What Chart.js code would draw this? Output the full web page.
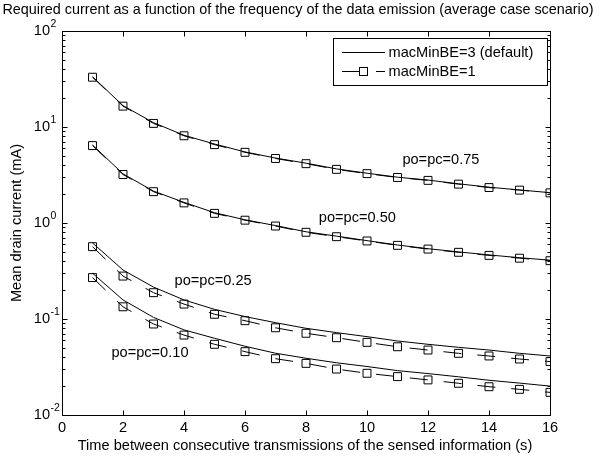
<!DOCTYPE html>
<html>
<head>
<meta charset="utf-8">
<script src="https://cdn.jsdelivr.net/npm/chart.js@4.4.0/dist/chart.umd.min.js"></script>
<style>
  body { margin: 0; background: #fff; }
  #wrap { width: 604px; height: 457px; }
</style>
</head>
<body>
<div id="wrap"><canvas id="currentChart" width="604" height="457"></canvas></div>
<script>
// Data (mean drain current, mA)
const timeS = [1, 2, 3, 4, 5, 6, 7, 8, 9, 10, 11, 12, 13, 14, 15, 16];

const solid075 = [33.4, 16.7, 11.1, 8.2, 6.65, 5.5, 4.75, 4.2, 3.66, 3.3, 3.0, 2.8, 2.56, 2.36, 2.21, 2.07];
const dashed075 = [33.0, 16.5, 10.9, 8.1, 6.55, 5.45, 4.7, 4.15, 3.62, 3.27, 2.98, 2.78, 2.54, 2.34, 2.2, 2.06];
const solid050 = [6.5, 3.25, 2.15, 1.64, 1.28, 1.08, 0.94, 0.81, 0.73, 0.655, 0.59, 0.54, 0.5, 0.465, 0.435, 0.41];
const dashed050 = [6.4, 3.2, 2.12, 1.62, 1.26, 1.07, 0.93, 0.8, 0.72, 0.65, 0.585, 0.535, 0.495, 0.46, 0.43, 0.405];
const solid025 = [0.62, 0.324, 0.215, 0.158, 0.126, 0.106, 0.0916, 0.08, 0.0721, 0.0655, 0.059, 0.0545, 0.0507, 0.0475, 0.0439, 0.0412];
const dashed025 = [0.567, 0.28, 0.188, 0.143, 0.112, 0.096, 0.081, 0.071, 0.0638, 0.0571, 0.0514, 0.0475, 0.0439, 0.0412, 0.0383, 0.036];
const solid010 = [0.3, 0.158, 0.104, 0.077, 0.063, 0.052, 0.044, 0.039, 0.035, 0.032, 0.029, 0.027, 0.025, 0.023, 0.0215, 0.02];
const dashed010 = [0.27, 0.134, 0.0887, 0.068, 0.0545, 0.0457, 0.0386, 0.0345, 0.0301, 0.0272, 0.0251, 0.0232, 0.0214, 0.0197, 0.0185, 0.0172];

const xTicks = [0, 2, 4, 6, 8, 10, 12, 14, 16];
const yTicks = [0.01, 0.1, 1, 10, 100];
const yExponents = ["-2", "-1", "0", "1", "2"];

const curveLabels = ["po=pc=0.75", "po=pc=0.50", "po=pc=0.25", "po=pc=0.10"];
const labelX = [11.16, 8.42, 3.69, 1.62];
const labelY = [4.53, 1.12, 0.249, 0.0446];

const seriesNames = ["macMinBE=3 (default)", "macMinBE=1"];

const FONT = '"Liberation Sans", Arial, Helvetica, sans-serif';
const TXT = "14.6px " + FONT;
const DASH = [18, 16];

function toPoints(values) {
  return values.map((v, i) => ({ x: timeS[i], y: v }));
}

function solidSet(values) {
  return {
    label: seriesNames[0],
    data: toPoints(values),
    borderColor: "#000",
    borderWidth: 1,
    pointRadius: 0,
    tension: 0,
    fill: false
  };
}

function dashedSet(values) {
  return {
    label: seriesNames[1],
    data: toPoints(values),
    borderColor: "#000",
    borderWidth: 1,
    borderDash: DASH,
    pointStyle: "rect",
    pointRadius: 5.6,
    pointBorderWidth: 1,
    pointBorderColor: "#000",
    pointBackgroundColor: "rgba(0,0,0,0)",
    tension: 0,
    fill: false
  };
}

// MATLAB style frame, ticks, labels, legend and notes
const matlabAxes = {
  id: "matlabAxes",
  afterDraw(chart) {
    const ctx = chart.ctx;
    const area = chart.chartArea;
    const xs = chart.scales.x;
    const ys = chart.scales.y;
    const left = Math.round(area.left) + 0.5;
    const right = Math.round(area.right) + 0.5;
    const top = Math.round(area.top) + 0.5;
    const bottom = Math.round(area.bottom) + 0.5;

    ctx.save();
    ctx.strokeStyle = "#000";
    ctx.fillStyle = "#000";
    ctx.lineWidth = 1;
    ctx.setLineDash([]);
    ctx.strokeRect(left, top, right - left, bottom - top);

    // ticks
    ctx.beginPath();
    xTicks.forEach(v => {
      const px = Math.round(xs.getPixelForValue(v)) + 0.5;
      ctx.moveTo(px, bottom); ctx.lineTo(px, bottom - 5);
      ctx.moveTo(px, top); ctx.lineTo(px, top + 5);
    });
    yTicks.forEach((d, i) => {
      const py = Math.round(ys.getPixelForValue(d)) + 0.5;
      ctx.moveTo(left, py); ctx.lineTo(left + 5, py);
      ctx.moveTo(right, py); ctx.lineTo(right - 5, py);
      if (i < yTicks.length - 1) {
        for (let m = 2; m <= 9; m++) {
          const my = Math.round(ys.getPixelForValue(d * m)) + 0.5;
          ctx.moveTo(left, my); ctx.lineTo(left + 3, my);
          ctx.moveTo(right, my); ctx.lineTo(right - 3, my);
        }
      }
    });
    ctx.stroke();

    // x tick labels
    ctx.font = TXT;
    ctx.textAlign = "center";
    ctx.textBaseline = "middle";
    xTicks.forEach(v => {
      ctx.fillText(String(v), xs.getPixelForValue(v), 428);
    });

    // y tick labels 10^n
    yTicks.forEach((d, i) => {
      const py = ys.getPixelForValue(d);
      ctx.font = TXT;
      ctx.textAlign = "right";
      ctx.textBaseline = "middle";
      ctx.fillText("10", 50, py);
      ctx.font = "10.5px " + FONT;
      ctx.textAlign = "left";
      ctx.fillText(yExponents[i], 50.5, py - 7);
    });

    // titles
    ctx.font = TXT;
    ctx.textAlign = "center";
    ctx.textBaseline = "middle";
    ctx.fillText("Time between consecutive transmissions of the sensed information (s)", 305, 446);
    ctx.font = "14.4px " + FONT;
    ctx.fillText("Required current as a function of the frequency of the data emission (average case scenario)", 298, 10);

    ctx.save();
    ctx.translate(16.5, 223);
    ctx.rotate(-Math.PI / 2);
    ctx.font = TXT;
    ctx.fillText("Mean drain current (mA)", 0, 0);
    ctx.restore();

    // curve notes
    ctx.font = TXT;
    ctx.textAlign = "left";
    curveLabels.forEach((t, i) => {
      ctx.fillText(t, xs.getPixelForValue(labelX[i]), ys.getPixelForValue(labelY[i]));
    });

    // legend
    ctx.fillStyle = "#fff";
    ctx.fillRect(333.5, 38.5, 214, 47);
    ctx.strokeRect(333.5, 38.5, 214, 47);
    ctx.beginPath();
    ctx.moveTo(342, 52.5); ctx.lineTo(385, 52.5);
    ctx.stroke();
    ctx.setLineDash(DASH);
    ctx.beginPath();
    ctx.moveTo(342, 71.5); ctx.lineTo(385, 71.5);
    ctx.stroke();
    ctx.setLineDash([]);
    ctx.strokeRect(359.5, 67.5, 8, 8);
    ctx.fillStyle = "#000";
    ctx.font = TXT;
    ctx.textAlign = "left";
    ctx.fillText(seriesNames[0], 388.5, 53);
    ctx.fillText(seriesNames[1], 388.5, 72);
    ctx.restore();
  }
};

new Chart(document.getElementById("currentChart"), {
  type: "line",
  data: {
    datasets: [
      solidSet(solid075), dashedSet(dashed075),
      solidSet(solid050), dashedSet(dashed050),
      solidSet(solid025), dashedSet(dashed025),
      solidSet(solid010), dashedSet(dashed010)
    ]
  },
  options: {
    responsive: false,
    animation: false,
    layout: { padding: { left: 62, right: 54, top: 31, bottom: 42 } },
    scales: {
      x: { type: "linear", min: 0, max: 16, display: false },
      y: { type: "logarithmic", min: 0.01, max: 100, display: false }
    },
    plugins: {
      legend: { display: false },
      tooltip: { enabled: false }
    }
  },
  plugins: [matlabAxes]
});
</script>
</body>
</html>
